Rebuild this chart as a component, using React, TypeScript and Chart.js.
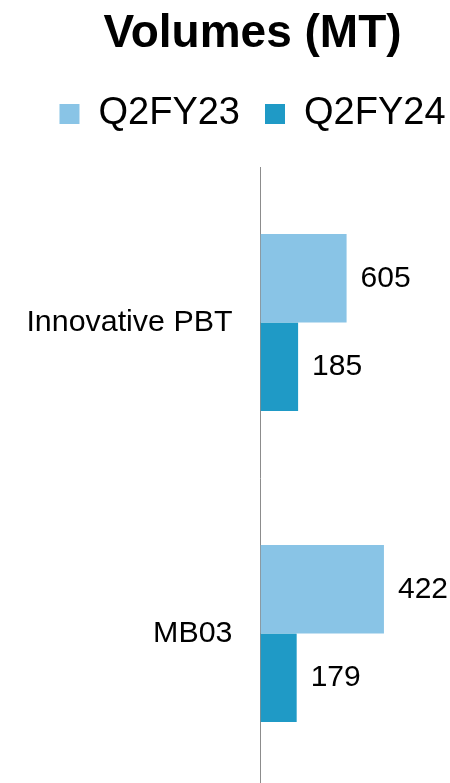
import React, { useEffect, useRef } from 'react';
import { Chart, registerables } from 'chart.js';

Chart.register(...registerables);

const FONT = '"Liberation Sans", Arial, sans-serif';

const categories = ['Innovative PBT', 'MB03'];
const seriesNames = ['Q2FY23', 'Q2FY24'];
const seriesColors = ['#89C4E6', '#1F9AC6'];

// numbers printed next to the bars
const q2fy23Values = [605, 422];
const q2fy24Values = [185, 179];

// bar lengths as drawn in the picture (share of the value axis, %)
const q2fy23BarLengths = [36.4, 52.2];
const q2fy24BarLengths = [15.9, 15.3];

const printedValues = [q2fy23Values, q2fy24Values];

const legendSpacer = {
  id: 'legendSpacer',
  beforeInit(chart: any) {
    const legend = chart.legend;
    if (!legend) return;
    const orig = legend.fit;
    legend.fit = function () {
      orig.call(this);
      this.height += 24;
    };
  },
};

const valueLabels = {
  id: 'valueLabels',
  afterDatasetsDraw(chart: any) {
    const ctx = chart.ctx;
    ctx.save();
    ctx.font = `30px ${FONT}`;
    ctx.fillStyle = '#000';
    ctx.textAlign = 'left';
    ctx.textBaseline = 'middle';
    chart.data.datasets.forEach((_ds: any, di: number) => {
      const meta = chart.getDatasetMeta(di);
      meta.data.forEach((bar: any, i: number) => {
        ctx.fillText(String(printedValues[di][i]), bar.x + 14, bar.y);
      });
    });
    ctx.restore();
  },
};

export default function App() {
  const ref = useRef<HTMLCanvasElement>(null);

  useEffect(() => {
    document.documentElement.style.overflow = 'hidden';
    document.body.style.marginRight = '0px';
    if (!ref.current) return;
    const chart = new Chart(ref.current, {
      type: 'bar',
      data: {
        labels: categories,
        datasets: [
          {
            label: seriesNames[0],
            data: q2fy23BarLengths,
            backgroundColor: seriesColors[0],
            borderWidth: 0,
            categoryPercentage: 0.569,
            barPercentage: 1,
          },
          {
            label: seriesNames[1],
            data: q2fy24BarLengths,
            backgroundColor: seriesColors[1],
            borderWidth: 0,
            categoryPercentage: 0.569,
            barPercentage: 1,
          },
        ],
      },
      options: {
        indexAxis: 'y',
        animation: false,
        responsive: false,
        devicePixelRatio: 1,
        layout: { padding: 0 },
        scales: {
          x: { display: false, min: 0, max: 100 },
          y: {
            grid: { display: false, drawTicks: false },
            border: { display: true, color: '#8c8c8c', width: 1 },
            ticks: { color: '#000', font: { size: 30.4, family: FONT }, padding: 28 },
            afterFit: (s: any) => {
              s.width = 252.5;
              s.paddingTop = 0;
              s.paddingBottom = 0;
            },
          },
        },
        plugins: {
          title: {
            display: true,
            text: 'Volumes (MT)',
            color: '#000',
            font: { size: 46, weight: 'bold', family: FONT },
            padding: { top: -1.5, bottom: 8.3 },
          },
          legend: {
            display: true,
            position: 'top',
            labels: {
              boxWidth: 20,
              boxHeight: 20,
              padding: 25,
              color: '#000',
              font: { size: 38, family: FONT },
            },
          },
          tooltip: { enabled: false },
        },
      },
      plugins: [legendSpacer, valueLabels],
    } as any);
    return () => chart.destroy();
  }, []);

  return (
    <div style={{ width: 489, height: 781 }}>
      <canvas ref={ref} width={489} height={781} style={{ display: 'block', width: 489, height: 781 }} />
    </div>
  );
}
